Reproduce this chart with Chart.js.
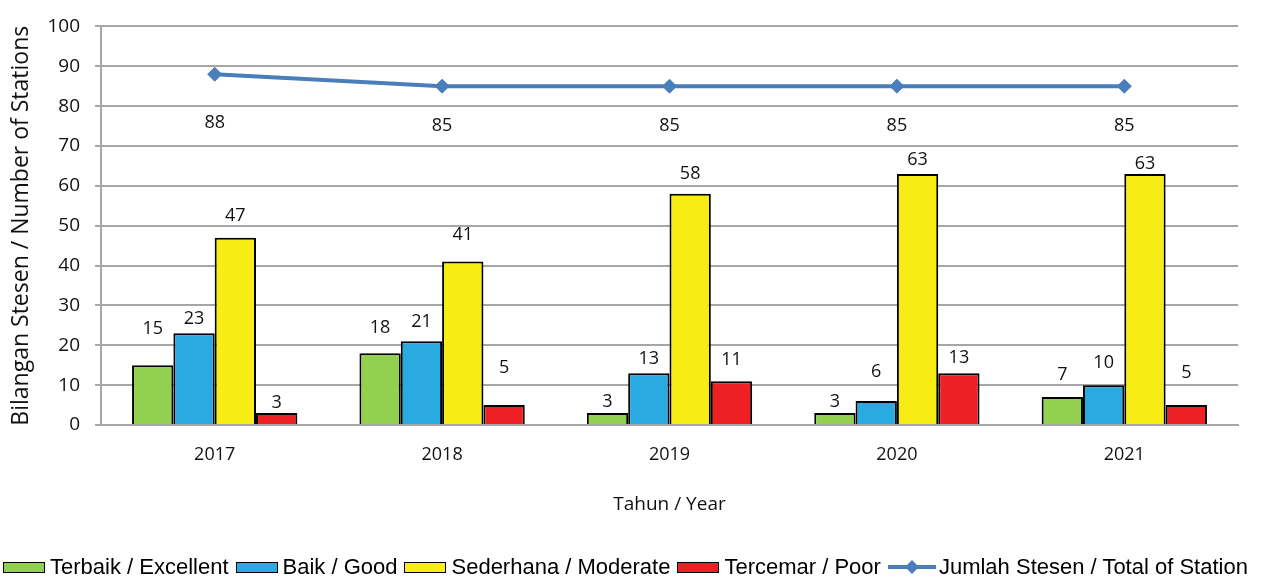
<!DOCTYPE html>
<html>
<head>
<meta charset="utf-8">
<script src="https://cdn.jsdelivr.net/npm/chart.js@4"></script>
<style>
  html, body { margin: 0; padding: 0; background: #fff; }
  #wrap { position: relative; width: 1266px; height: 578px; }
  #legend { position: absolute; left: 3px; top: 555px; height: 24px; display: flex; align-items: center;
            font-family: "Liberation Sans", Arial, sans-serif; font-size: 22px; color: #000; white-space: nowrap; }
  .item { display: flex; align-items: center; margin-right: 7px; }
  .box { width: 40px; height: 9px; border: 1.5px solid #000; margin-right: 5px; }
  svg { margin-right: 3px; }
</style>
</head>
<body>
<div id="wrap">
  <canvas id="c" width="1266" height="578"></canvas>
  <div id="legend"></div>
</div>
<script>
const years = ['2017', '2018', '2019', '2020', '2021'];
const excellent = [15, 18, 3, 3, 7];
const good = [23, 21, 13, 6, 10];
const moderate = [47, 41, 58, 63, 63];
const poor = [3, 5, 11, 13, 5];
const total = [88, 85, 85, 85, 85];
const yTicks = [0, 10, 20, 30, 40, 50, 60, 70, 80, 90, 100];

const seriesNames = ['Terbaik / Excellent', 'Baik / Good', 'Sederhana / Moderate', 'Tercemar / Poor', 'Jumlah Stesen / Total of Station'];
const colors = ['#92d050', '#29abe2', '#f7ec13', '#ee2024', '#4a7ebb'];

// label gaps (px) between mark top and label centre, per dataset per year (as in the reference)
const labelGap = [
  [36, 25, 11, 11, 22],
  [14, 19, 14, 29, 22],
  [22, 27, 20, 14, 10],
  [10, 37, 21, 15, 32],
  [-49, -40, -40, -40, -40]
];

const labelPlugin = {
  id: 'valueLabels',
  afterDatasetsDraw(chart) {
    const ctx = chart.ctx;
    ctx.save();
    ctx.font = '18px "Open Sans"';
    ctx.fillStyle = '#111';
    ctx.textAlign = 'center';
    ctx.textBaseline = 'middle';
    chart.data.datasets.forEach((ds, di) => {
      const meta = chart.getDatasetMeta(di);
      meta.data.forEach((el, i) => {
        ctx.fillText(String(ds.data[i]), el.x, el.y - labelGap[di][i]);
      });
    });
    ctx.restore();
  }
};

const barDs = (name, data, color) => ({
  type: 'bar', label: name, data: data, backgroundColor: color,
  borderColor: '#000', borderWidth: 2, order: 2,
  categoryPercentage: 0.727, barPercentage: 1.0
});

new Chart(document.getElementById('c'), {
  data: {
    labels: years,
    datasets: [
      barDs(seriesNames[0], excellent, colors[0]),
      barDs(seriesNames[1], good, colors[1]),
      barDs(seriesNames[2], moderate, colors[2]),
      barDs(seriesNames[3], poor, colors[3]),
      {
        type: 'line', label: seriesNames[4], data: total,
        borderColor: colors[4], backgroundColor: colors[4], borderWidth: 4,
        pointStyle: 'rectRot', pointRadius: 7, pointHoverRadius: 7,
        pointBorderWidth: 1, pointBorderColor: colors[4], order: 1, tension: 0
      }
    ]
  },
  options: {
    responsive: false,
    animation: false,
    events: [],
    layout: { padding: { left: 8, right: 28, top: 25, bottom: 58 } },
    plugins: { legend: { display: false }, tooltip: { enabled: false } },
    scales: {
      x: {
        grid: { display: false, drawTicks: false },
        border: { display: true, color: '#a6a6a6', width: 2 },
        ticks: { color: '#111', font: { family: 'Open Sans', size: 18 }, padding: 19 },
        title: { display: true, text: 'Tahun / Year', color: '#111', font: { family: 'Open Sans', size: 19 }, padding: { top: 22, bottom: 4 } },
        afterFit(scale) { scale.height = 95; }
      },
      y: {
        min: 0, max: 100,
        afterBuildTicks(scale) { scale.ticks = yTicks.map(v => ({ value: v })); },
        grid: { color: '#a6a6a6', lineWidth: 2, tickLength: 6, drawTicks: true, tickColor: '#a6a6a6' },
        border: { display: true, color: '#a6a6a6', width: 2 },
        ticks: { color: '#111', font: { family: 'Open Sans', size: 19 }, padding: 15 },
        title: { display: true, text: 'Bilangan Stesen / Number of Stations', color: '#111', font: { family: 'Open Sans', size: 23 }, padding: { top: 0, bottom: 2 } },
        afterFit(scale) { scale.width = 93; }
      }
    }
  },
  plugins: [labelPlugin]
});

// HTML legend
const lg = document.getElementById('legend');
seriesNames.forEach((name, i) => {
  const it = document.createElement('div');
  it.className = 'item';
  if (i < 4) {
    const b = document.createElement('div');
    b.className = 'box';
    b.style.background = colors[i];
    it.appendChild(b);
  } else {
    it.innerHTML = '<svg width="48" height="14"><line x1="0" y1="7" x2="48" y2="7" stroke="' + colors[i] + '" stroke-width="4"/><polygon points="24,0 31,7 24,14 17,7" fill="' + colors[i] + '"/></svg>';
  }
  const t = document.createElement('span');
  t.textContent = name;
  it.appendChild(t);
  lg.appendChild(it);
});
</script>
</body>
</html>
